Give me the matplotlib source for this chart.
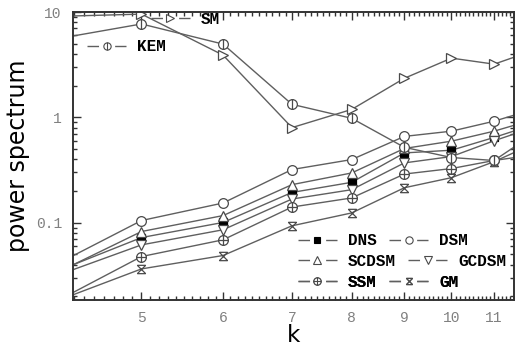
import numpy as np
import matplotlib
matplotlib.use("Agg")
import matplotlib.pyplot as plt
from matplotlib.path import Path
from matplotlib.lines import Line2D
from matplotlib.ticker import FixedLocator, NullFormatter, FixedFormatter

# ── data ───────────────────────────────────────────────────────────────────
k = [4, 5, 6, 7, 8, 9, 10, 11, 12]
DNS   = [0.0304, 0.0724, 0.1007, 0.194, 0.242, 0.46, 0.488, 0.645, 0.85]
DSM   = [0.0342, 0.105, 0.154, 0.32, 0.398, 0.66, 0.74, 0.92, 1.19]
SCDSM = [0.0286, 0.0826, 0.117, 0.23, 0.297, 0.507, 0.595, 0.74, 0.95]
GCDSM = [0.0280, 0.0617, 0.0858, 0.168, 0.206, 0.37, 0.425, 0.60, 0.80]
SSM   = [0.0152, 0.0478, 0.0689, 0.141, 0.172, 0.29, 0.327, 0.39, 0.69]
GM    = [0.0160, 0.0365, 0.0489, 0.0936, 0.124, 0.215, 0.268, 0.38, 0.56]
SM    = [9.0, 9.55, 3.9, 0.80, 1.19, 2.35, 3.65, 3.2, 4.3]
KEM   = [5.25, 7.7, 4.96, 1.33, 0.98, 0.52, 0.416, 0.39, 0.44]

xticks = [5, 6, 7, 8, 9, 10, 11]
yticks = [0.1, 1, 10]
ytick_labels = ["0.1", "1", "10"]

# ── custom markers ─────────────────────────────────────────────────────────
M, L = Path.MOVETO, Path.LINETO
circ = Path.unit_circle()
circ_vbar = Path.make_compound_path(circ, Path([(0, -1), (0, 1)], [M, L]))
circ_plus = Path.make_compound_path(circ, Path([(0, -1), (0, 1), (-1, 0), (1, 0)], [M, L, M, L]))
x_box = Path([(-1, -1), (1, 1), (-1, 1), (1, -1), (-1, 1), (1, 1), (-1, -1), (1, -1)],
             [M, L, M, L, M, L, M, L])

LC = "#5f5f5f"
series = [
    ("DNS",   DNS,   "s",        "black", 5.5),
    ("DSM",   DSM,   "o",        "white", 7),
    ("SCDSM", SCDSM, "^",        "white", 7),
    ("GCDSM", GCDSM, "v",        "white", 7),
    ("SSM",   SSM,   circ_plus,  "white", 7),
    ("GM",    GM,    x_box,      "none",  6),
    ("SM",    SM,    ">",        "white", 7),
    ("KEM",   KEM,   circ_vbar,  "white", 7),
]

fig = plt.figure(figsize=(5.15, 3.47), dpi=100)
ax = fig.add_axes([73 / 515, 47 / 347, 441 / 515, 288 / 347])

handles = {}
for name, vals, mk, fc, ms in series:
    ec = "black" if fc == "black" else "#4a4a4a"
    ax.plot(k, vals, color=LC, lw=1.0, marker=mk, ms=ms, mfc=fc, mec=ec, mew=0.9)
    handles[name] = Line2D([], [], color=LC, lw=1.0, dashes=(8.3, 11.6),
                           marker=mk, ms=ms * 0.75, mfc=fc, mec=ec, mew=0.8)

ax.set_xscale("log")
ax.set_yscale("log")
ax.set_xlim(4.29, 11.5)
ax.set_ylim(0.0185, 10)

ax.xaxis.set_major_locator(FixedLocator(xticks))
ax.xaxis.set_major_formatter(FixedFormatter([str(t) for t in xticks]))
ax.xaxis.set_minor_locator(FixedLocator(np.arange(43, 116) / 10))
ax.xaxis.set_minor_formatter(NullFormatter())
ax.yaxis.set_major_locator(FixedLocator(yticks))
ax.yaxis.set_major_formatter(FixedFormatter(ytick_labels))
ax.yaxis.set_minor_formatter(NullFormatter())

for lab in ax.get_xticklabels() + ax.get_yticklabels():
    lab.set_fontfamily("Liberation Mono")
    lab.set_fontsize(10.5)
ax.tick_params(which="both", direction="in", top=True, right=True,
               colors="#333333", labelcolor="#808080", width=1.0)
ax.tick_params(which="major", length=6, pad=8)
ax.tick_params(which="minor", length=3)
for s in ax.spines.values():
    s.set_linewidth(1.4)
    s.set_color("#333333")

ax.set_ylabel("power spectrum", fontsize=17, family="DejaVu Sans", labelpad=4)
ax.set_xlabel("k", fontsize=16.5, family="DejaVu Sans", labelpad=-1)

legfont = dict(family="Liberation Mono", weight="bold", size=11.5)
common = dict(frameon=False, prop=legfont, handlelength=2.45, handletextpad=0.7,
              borderpad=0, borderaxespad=0, columnspacing=0.75, loc="upper left")

def add_leg(names, anchor):
    lg = ax.legend([handles[n] for n in names], names, ncol=len(names),
                   bbox_to_anchor=anchor, **common)
    ax.add_artist(lg)

add_leg(["SM"], (0.176, 1.0))
add_leg(["KEM"], (0.032, 0.905))
add_leg(["DNS", "DSM"], (0.51, 0.232))
add_leg(["SCDSM", "GCDSM"], (0.51, 0.160))
add_leg(["SSM", "GM"], (0.51, 0.088))

fig.savefig("out.png", dpi=100)
